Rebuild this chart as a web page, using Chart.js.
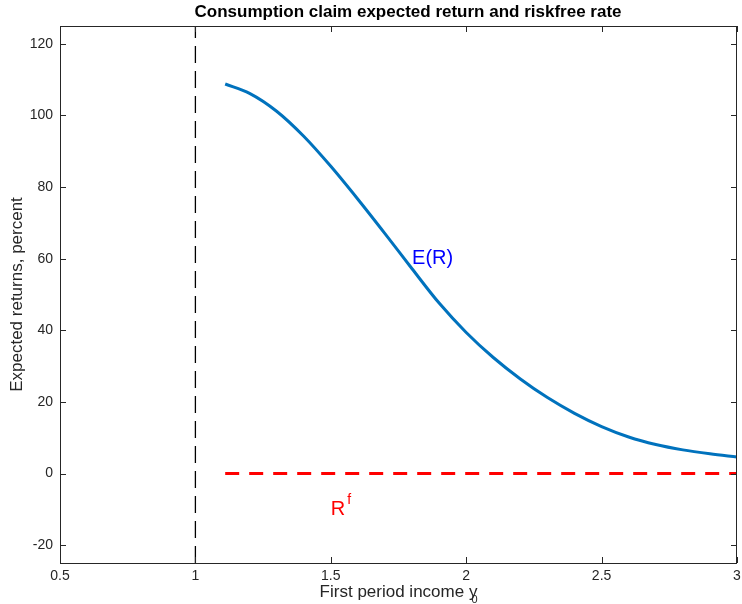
<!DOCTYPE html>
<html>
<head>
<meta charset="utf-8">
<script src="https://cdn.jsdelivr.net/npm/chart.js@4.4.1/dist/chart.umd.min.js"></script>
<style>
  html, body { margin: 0; padding: 0; background: #fff; }
  #wrap { width: 742px; height: 604px; }
</style>
</head>
<body>
<div id="wrap"><canvas id="chart" width="742" height="604"></canvas></div>
<script>
// income grid and expected return of the consumption claim (percent)
const incomeGrid = [1.11, 1.2, 1.3, 1.4, 1.5, 1.6, 1.7, 1.8, 1.9, 2.0, 2.1, 2.2, 2.3, 2.4, 2.5, 2.6, 2.7, 2.8, 2.9, 3.0];
const expectedReturn = [108.8, 106.2, 101.2, 94.2, 85.8, 76.6, 67.0, 57.2, 47.6, 39.4, 32.4, 26.4, 21.2, 16.8, 13.1, 10.2, 8.1, 6.6, 5.5, 4.6];
// riskfree rate over the same range
const riskfreeX = [1.11, 3.0];
const riskfreeRate = [0, 0];
// dashed marker at y0 = 1
const markerX = [1, 1];
const markerY = [-25, 125];

const xTicks = [0.5, 1, 1.5, 2, 2.5, 3];
const yTicks = [-20, 0, 20, 40, 60, 80, 100, 120];

const FONT = '"Liberation Sans", Arial, sans-serif';
const toPoints = (xs, ys) => xs.map((x, i) => ({ x: x, y: ys[i] }));

// box, inward ticks, titles and in-plot labels
const decorations = {
    id: 'decorations',
    afterDraw(chart) {
        const { ctx, chartArea: a, scales } = chart;
        const xs = scales.x, ys = scales.y;
        ctx.save();
        ctx.strokeStyle = '#262626';
        ctx.lineWidth = 1;
        ctx.strokeRect(a.left + 0.5, a.top + 0.5, a.right - a.left - 1, a.bottom - a.top);

        const tl = 6;
        ctx.beginPath();
        xTicks.forEach(v => {
            const px = Math.round(xs.getPixelForValue(v)) + 0.5;
            ctx.moveTo(px, a.bottom); ctx.lineTo(px, a.bottom - tl);
            ctx.moveTo(px, a.top); ctx.lineTo(px, a.top + tl);
        });
        yTicks.forEach(v => {
            const py = Math.round(ys.getPixelForValue(v)) + 0.5;
            ctx.moveTo(a.left, py); ctx.lineTo(a.left + tl, py);
            ctx.moveTo(a.right, py); ctx.lineTo(a.right - tl, py);
        });
        ctx.stroke();

        // title
        ctx.fillStyle = '#000';
        ctx.font = 'bold 17px ' + FONT;
        ctx.textAlign = 'center';
        ctx.textBaseline = 'middle';
        ctx.fillText('Consumption claim expected return and riskfree rate', 408, 12);

        // axis titles
        ctx.fillStyle = '#262626';
        ctx.font = '17px ' + FONT;
        const xt = 'First period income y';
        const cx = (a.left + a.right) / 2;
        const w = ctx.measureText(xt).width;
        ctx.textAlign = 'left';
        ctx.fillText(xt, cx - w / 2, 592);
        ctx.font = '11px ' + FONT;
        ctx.fillText('0', cx + w / 2 - 6, 600);

        ctx.font = '17px ' + FONT;
        ctx.textAlign = 'center';
        ctx.translate(17, (a.top + a.bottom) / 2);
        ctx.rotate(-Math.PI / 2);
        ctx.fillText('Expected returns, percent', 0, 0);
        ctx.restore();

        // curve labels
        ctx.save();
        ctx.textAlign = 'left';
        ctx.textBaseline = 'middle';
        ctx.font = '20px ' + FONT;
        ctx.fillStyle = '#0000ff';
        ctx.fillText('E(R)', xs.getPixelForValue(1.8), ys.getPixelForValue(60));
        ctx.fillStyle = '#ff0000';
        const rx = xs.getPixelForValue(1.5), ry = ys.getPixelForValue(-10);
        ctx.fillText('R', rx, ry);
        const rw = ctx.measureText('R').width;
        ctx.font = '14px ' + FONT;
        ctx.fillText('f', rx + rw + 2, ry - 9);
        ctx.restore();
    }
};

new Chart(document.getElementById('chart'), {
    type: 'line',
    data: {
        datasets: [
            {
                data: toPoints(markerX, markerY),
                borderColor: '#000',
                borderWidth: 1.3,
                borderDash: [17, 8],
                pointRadius: 0
            },
            {
                data: toPoints(riskfreeX, riskfreeRate),
                borderColor: '#ff0000',
                borderWidth: 3,
                borderDash: [14, 10],
                pointRadius: 0
            },
            {
                data: toPoints(incomeGrid, expectedReturn),
                borderColor: '#0072bd',
                borderWidth: 3,
                pointRadius: 0,
                cubicInterpolationMode: 'monotone'
            }
        ]
    },
    options: {
        responsive: false,
        animation: false,
        events: [],
        layout: { padding: { top: 26, right: 5, left: 0, bottom: 0 } },
        plugins: { legend: { display: false }, tooltip: { enabled: false } },
        scales: {
            x: {
                type: 'linear',
                min: 0.5,
                max: 3,
                afterBuildTicks: s => { s.ticks = xTicks.map(v => ({ value: v })); },
                afterFit: s => { s.height = 41; s.paddingLeft = 0; s.paddingRight = 0; },
                grid: { display: false, drawTicks: false },
                border: { display: false },
                ticks: {
                    color: '#262626', font: { family: FONT, size: 14 }, padding: 5, maxRotation: 0,
                    callback: v => String(v)
                }
            },
            y: {
                type: 'linear',
                min: -25,
                max: 125,
                afterBuildTicks: s => { s.ticks = yTicks.map(v => ({ value: v })); },
                afterFit: s => { s.width = 60; s.paddingTop = 0; s.paddingBottom = 0; },
                grid: { display: false, drawTicks: false },
                border: { display: false },
                ticks: { color: '#262626', font: { family: FONT, size: 14 }, padding: 7, callback: v => String(v) }
            }
        }
    },
    plugins: [decorations]
});
</script>
</body>
</html>
